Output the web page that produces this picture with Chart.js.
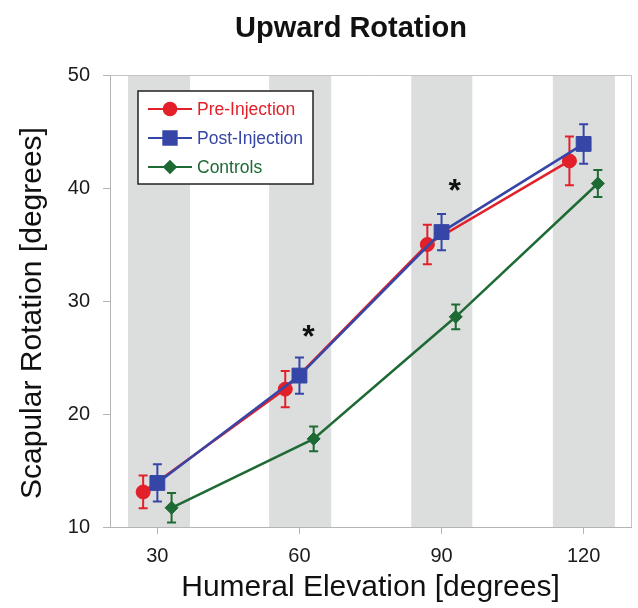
<!DOCTYPE html>
<html lang="en">
<head>
    <meta charset="UTF-8">
    <title>Upward Rotation</title>
    <script src="https://cdn.jsdelivr.net/npm/chart.js"></script>
    <style>
        html, body {
    margin: 0;
    padding: 0;
    overflow: hidden;
    background-color: #ffffff;
}

canvas {
    display: block;
}
    </style>
</head>
<body>
    <canvas id="rotationChart" width="638" height="608"></canvas>

    <script>
        // values (degrees)
        const xTicks = [30, 60, 90, 120];

        const preX = [27, 57, 87, 117];
        const preY = [13.1, 22.2, 35.0, 42.4];
        const preErr = [1.45, 1.6, 1.75, 2.15];

        const postX = [30, 60, 90, 120];
        const postY = [13.9, 23.4, 36.1, 43.9];
        const postErr = [1.65, 1.6, 1.6, 1.75];

        const ctrlX = [33, 63, 93, 123];
        const ctrlY = [11.7, 17.8, 28.6, 40.4];
        const ctrlErr = [1.3, 1.1, 1.1, 1.2];

        // shaded columns behind each elevation
        const bandStart = [23.8, 53.6, 83.6, 113.5];
        const bandEnd = [36.9, 66.7, 96.5, 126.6];

        // significance markers (data units)
        const starX = [61.9, 92.8];
        const starY = [27.3, 40.2];

        const FONT = "'Liberation Sans', Arial, sans-serif";

        function points(xs, ys) {
            return xs.map((x, i) => ({ x: x, y: ys[i] }));
        }

        const errors = [preErr, postErr, ctrlErr];

        const backgroundPlugin = {
            id: 'bands',
            beforeDatasetsDraw(chart) {
                const { ctx, chartArea, scales } = chart;
                ctx.save();
                ctx.fillStyle = '#dcdede';
                bandStart.forEach((s, i) => {
                    const x0 = scales.x.getPixelForValue(s);
                    const x1 = scales.x.getPixelForValue(bandEnd[i]);
                    ctx.fillRect(x0, chartArea.top, x1 - x0, chartArea.bottom - chartArea.top);
                });
                // top and right frame
                ctx.strokeStyle = '#c4c4c4';
                ctx.lineWidth = 1;
                ctx.beginPath();
                ctx.moveTo(chartArea.left, chartArea.top + 0.5);
                ctx.lineTo(chartArea.right + 0.5, chartArea.top + 0.5);
                ctx.lineTo(chartArea.right + 0.5, chartArea.bottom);
                ctx.stroke();
                ctx.restore();
            },
            beforeDatasetDraw(chart, args) {
                const { ctx, scales } = chart;
                const ds = chart.data.datasets[args.index];
                const err = errors[args.index];
                ctx.save();
                ctx.strokeStyle = ds.borderColor;
                ctx.lineWidth = 2;
                ds.data.forEach((p, i) => {
                    const x = scales.x.getPixelForValue(p.x);
                    const yt = scales.y.getPixelForValue(p.y + err[i]);
                    const yb = scales.y.getPixelForValue(p.y - err[i]);
                    ctx.beginPath();
                    ctx.moveTo(x, yt);
                    ctx.lineTo(x, yb);
                    ctx.moveTo(x - 4.5, yt);
                    ctx.lineTo(x + 4.5, yt);
                    ctx.moveTo(x - 4.5, yb);
                    ctx.lineTo(x + 4.5, yb);
                    ctx.stroke();
                });
                ctx.restore();
            },
            afterDraw(chart) {
                const { ctx, chartArea, scales } = chart;
                ctx.save();

                // title
                ctx.fillStyle = '#111111';
                ctx.font = 'bold 29px ' + FONT;
                ctx.textAlign = 'center';
                ctx.textBaseline = 'middle';
                ctx.fillText('Upward Rotation', 351, 29);

                // y axis title (sits a little below the plot centre in the original)
                ctx.save();
                ctx.translate(41, 313);
                ctx.rotate(-Math.PI / 2);
                ctx.font = '30px ' + FONT;
                ctx.textBaseline = 'alphabetic';
                ctx.fillText('Scapular Rotation [degrees]', 0, 0);
                ctx.restore();

                // asterisks
                ctx.font = 'bold 32px ' + FONT;
                ctx.textBaseline = 'alphabetic';
                starX.forEach((sx, i) => {
                    const x = scales.x.getPixelForValue(sx);
                    const y = scales.y.getPixelForValue(starY[i]);
                    ctx.fillText('*', x, y + 15);
                });

                // legend box
                const lx = chartArea.left + 28;
                const ly = chartArea.top + 16;
                ctx.fillStyle = '#ffffff';
                ctx.fillRect(lx, ly, 175, 93);
                ctx.strokeStyle = '#222222';
                ctx.lineWidth = 1.5;
                ctx.strokeRect(lx, ly, 175, 93);

                ctx.font = '17.5px ' + FONT;
                ctx.textAlign = 'left';
                ctx.textBaseline = 'middle';
                chart.data.datasets.forEach((ds, i) => {
                    const y = ly + 18 + i * 29;
                    ctx.strokeStyle = ds.borderColor;
                    ctx.lineWidth = 2;
                    ctx.beginPath();
                    ctx.moveTo(lx + 10, y);
                    ctx.lineTo(lx + 54, y);
                    ctx.stroke();
                    Chart.helpers.drawPoint(ctx, {
                        pointStyle: ds.pointStyle,
                        radius: ds.pointRadius * 0.9,
                        borderWidth: 1
                    }, lx + 32, y);
                    ctx.fillStyle = ds.borderColor;
                    ctx.fill();
                    ctx.fillText(ds.label, lx + 59, y + 1);
                });
                ctx.restore();
            }
        };

        const ctx = document.getElementById('rotationChart').getContext('2d');
        const rotationChart = new Chart(ctx, {
            type: 'line',
            data: {
                datasets: [{
                    label: 'Pre-Injection',
                    data: points(preX, preY),
                    borderColor: '#e3202a',
                    backgroundColor: '#e3202a',
                    pointStyle: 'circle',
                    pointRadius: 7,
                    order: 1
                }, {
                    label: 'Post-Injection',
                    data: points(postX, postY),
                    borderColor: '#3646a6',
                    backgroundColor: '#3646a6',
                    pointStyle: 'rect',
                    pointRadius: 10.5,
                    order: 0
                }, {
                    label: 'Controls',
                    data: points(ctrlX, ctrlY),
                    borderColor: '#1e6a34',
                    backgroundColor: '#1e6a34',
                    pointStyle: 'rectRot',
                    pointRadius: 6.5,
                    order: 2
                }]
            },
            options: {
                responsive: false,
                animation: false,
                layout: {
                    autoPadding: false,
                    padding: { left: 0, top: 75, right: 7, bottom: 0 }
                },
                elements: {
                    line: { borderWidth: 2.5, tension: 0 },
                    point: { borderWidth: 1, hoverRadius: 7 }
                },
                scales: {
                    x: {
                        type: 'linear',
                        min: 20,
                        max: 130,
                        afterBuildTicks: (scale) => {
                            scale.ticks = xTicks.map(v => ({ value: v }));
                        },
                        afterFit: (scale) => {
                            scale.height = 81;
                            scale.paddingLeft = 0;
                            scale.paddingRight = 0;
                        },
                        grid: {
                            drawOnChartArea: false,
                            tickLength: 7,
                            color: '#b4b4b4'
                        },
                        border: { color: '#b4b4b4' },
                        ticks: {
                            color: '#1a1a1a',
                            padding: 10,
                            font: { family: FONT, size: 20 }
                        },
                        title: {
                            display: true,
                            text: 'Humeral Elevation [degrees]',
                            color: '#111111',
                            font: { family: FONT, size: 30 },
                            padding: { top: 0, bottom: 2 }
                        }
                    },
                    y: {
                        min: 10,
                        max: 50,
                        afterFit: (scale) => {
                            scale.width = 110;
                            scale.paddingTop = 0;
                            scale.paddingBottom = 0;
                        },
                        grid: {
                            drawOnChartArea: false,
                            tickLength: 7,
                            color: '#b4b4b4'
                        },
                        border: { color: '#b4b4b4' },
                        ticks: {
                            stepSize: 10,
                            color: '#1a1a1a',
                            padding: 13,
                            font: { family: FONT, size: 20 }
                        }
                    }
                },
                plugins: {
                    legend: { display: false },
                    tooltip: { enabled: false }
                }
            },
            plugins: [backgroundPlugin]
        });
    </script>
</body>
</html>
